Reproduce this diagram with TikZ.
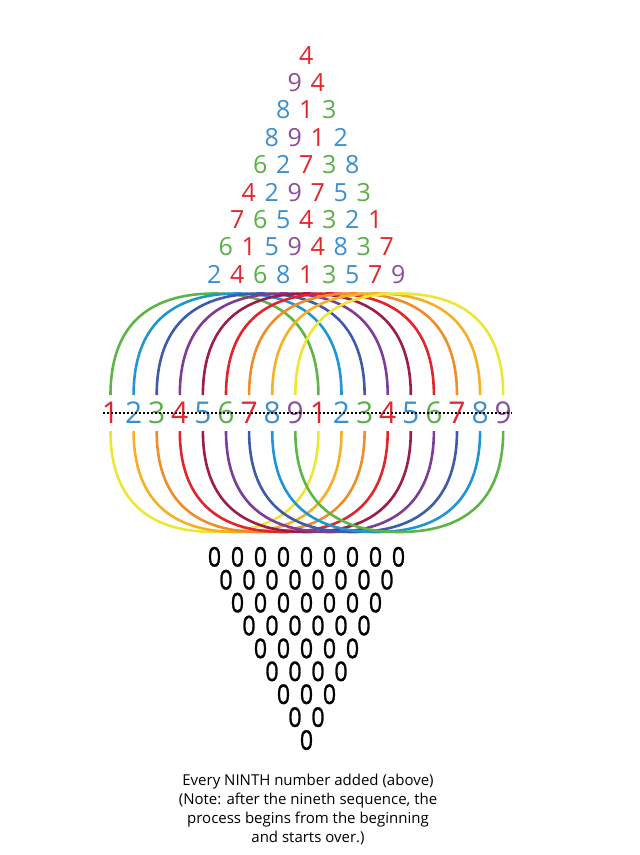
\documentclass[tikz,border=0pt]{standalone}
\usepackage{fontspec}
\usepackage{graphicx}
\setmainfont{Open Sans}
\newfontfamily\zerofont[FakeBold=1.2]{Open Sans}
\usetikzlibrary{calc}
\definecolor{dred}{HTML}{E1262C}
\definecolor{dblue}{HTML}{3B8FD0}
\definecolor{dgreen}{HTML}{5AAF47}
\definecolor{dpurple}{HTML}{8E4A9E}
\colorlet{c1}{dred}\colorlet{c2}{dblue}\colorlet{c3}{dgreen}
\colorlet{c4}{dred}\colorlet{c5}{dblue}\colorlet{c6}{dgreen}
\colorlet{c7}{dred}\colorlet{c8}{dblue}\colorlet{c9}{dpurple}
\definecolor{agreen}{HTML}{5DB548}
\definecolor{ablue}{HTML}{1E96D3}
\definecolor{adblue}{HTML}{3D5BA9}
\definecolor{apurple}{HTML}{7E3C97}
\definecolor{amaroon}{HTML}{9C1C4C}
\definecolor{ared}{HTML}{E2252B}
\definecolor{aorange}{HTML}{F08D29}
\definecolor{aamber}{HTML}{F6B024}
\definecolor{ayellow}{HTML}{EDE734}
\begin{document}
\begin{tikzpicture}[x=1pt,y=-1pt,
  tri/.style={font=\fontsize{25}{25}\selectfont, anchor=base, inner sep=0pt},
  mid/.style={font=\fontsize{30}{30}\selectfont, anchor=base, inner sep=0pt},
  zero/.style={font=\zerofont\fontsize{27}{27}\selectfont, anchor=base, inner sep=0pt, text=black},
  note/.style={font=\fontsize{15}{15}\selectfont, anchor=base, inner sep=0pt, text=black},
  arcline/.style={line width=2.6pt},
  dotline/.style={line width=2pt, dash pattern=on 2pt off 2pt, black}]
\useasboundingbox (0,0) rectangle (640,855);
% triangle of sums
\foreach \row [count=\r] in {{4},{9,4},{8,1,3},{8,9,1,2},{6,2,7,3,8},{4,2,9,7,5,3},{7,6,5,4,3,2,1},{6,1,5,9,4,8,3,7},{2,4,6,8,1,3,5,7,9}} {
  \foreach \d [count=\j] in \row {
    \pgfmathsetmacro\xx{306.3+23*(\j-1)-11.5*(\r-1)}
    \pgfmathsetmacro\yy{64+27.4*(\r-1)}
    \node[tri, text=c\d] (t\r-\j) at (\xx,\yy) {\d};
  }
}
% middle row
\foreach \d [count=\k from 0] in {1,2,3,4,5,6,7,8,9,1,2,3,4,5,6,7,8,9} {
  \pgfmathsetmacro\xx{110.5+23.1*\k}
  \node[mid, text=c\d] (m\k) at (\xx,423.3) {\d};
}
% upper arcs
\foreach \i/\col in {0/agreen,1/ablue,2/adblue,3/apurple,4/amaroon,5/ared,6/aorange,7/aamber,8/ayellow} {
  \pgfmathtruncatemacro\j{\i+9}
  \coordinate (ua\i) at ($(m\i.base)+(0,-28.3)$);
  \coordinate (ub\i) at ($(m\j.base)+(0,-28.3)$);
  \coordinate (ut\i) at ($(ua\i)!0.5!(ub\i)+(0,-101.5)$);
  \draw[arcline, \col] (ua\i) .. controls +(0,-67) and +(-68.6,0) .. (ut\i)
    .. controls +(68.6,0) and +(0,-67) .. (ub\i);
}
% lower arcs
\foreach \i/\col in {0/ayellow,1/aamber,2/aorange,3/ared,4/amaroon,5/apurple,6/adblue,7/ablue,8/agreen} {
  \pgfmathtruncatemacro\j{\i+9}
  \coordinate (la\i) at ($(m\i.base)+(0,7.7)$);
  \coordinate (lb\i) at ($(m\j.base)+(0,7.7)$);
  \coordinate (lt\i) at ($(la\i)!0.5!(lb\i)+(0,101)$);
  \draw[arcline, \col] (la\i) .. controls +(0,66.7) and +(-68.6,0) .. (lt\i)
    .. controls +(68.6,0) and +(0,66.7) .. (lb\i);
}
% dotted line
\coordinate (dl) at (103,412.7);
\coordinate (dr) at (512,412.7);
\draw[dotline] (dl) -- (dr);
% zeros
\foreach \r in {1,...,9} {
  \pgfmathtruncatemacro\n{10-\r}
  \foreach \j in {1,...,\n} {
    \pgfmathsetmacro\xx{306.5+23*(\j-1)-11.5*(\n-1)}
    \pgfmathsetmacro\yy{566.5+22.9*(\r-1)}
    \node[zero] (z\r-\j) at (\xx,\yy) {\scalebox{0.86}[1]{0}};
  }
}
% note
\node[note] (n1) at (308,785) {Every NINTH number added (above)};
\node[note] (n2) at (308,804.3) {(Note: after the nineth sequence, the};
\node[note] (n3) at (308,823.6) {process begins from the beginning};
\node[note] (n4) at (308,842.9) {and starts over.)};
\end{tikzpicture}
\end{document}
